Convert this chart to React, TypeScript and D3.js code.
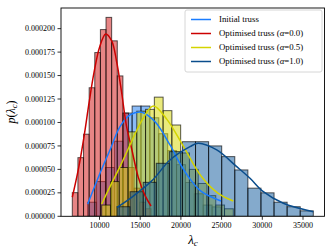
import React from 'react';
import * as d3 from 'd3';

const W = 333;
const H = 250;
const M = { left: 61, right: 324.5, top: 8, bottom: 216.3 };

// histogram data: [min, max] of each sample and bar densities
const initialRange = [8550, 24926];
const initialBars = [0.000015, 0.000037, 0.000052, 0.00008, 0.00011, 0.0001175, 0.0001175, 0.000105, 0.000088, 0.00007, 0.000055, 0.000036, 0.000024, 0.000012, 0.00001];
const redRange = [6658, 16327];
const redBars = [0.0000252, 0.0000625, 0.0000875, 0.000137, 0.0001745, 0.000199, 0.000212, 0.000187, 0.0001496, 0.00011, 0.000052, 0.00003, 0.000015, 0.000008];
const yellowRange = [10270, 26437];
const yellowBars = [0.000012, 0.000037, 0.000052, 0.00009, 0.000112, 0.000114, 0.000127, 0.0001126, 0.0000973, 0.0000675, 0.00005, 0.000035, 0.000022, 0.000012, 0.000008];
const darkRange = [12150, 36265];
const darkBars = [0.0000102, 0.0000262, 0.0000362, 0.0000565, 0.0000689, 0.0000795, 0.0000795, 0.000075, 0.0000636, 0.0000494, 0.00003, 0.000025, 0.000015, 0.0000102, 0.0000058];

// fitted density curves
const initialCurve: [number, number][] = [
  [8550, 0.000013], [10061, 0.0000458], [11290, 0.0000707], [12518, 0.0000955], [13750, 0.000108],
  [15184, 0.000111], [16800, 0.000101], [18661, 0.000076], [19900, 0.000056], [21100, 0.00004],
  [22540, 0.0000262], [24926, 0.0000163],
];
const redCurve: [number, number][] = [
  [6658, 0.0000203], [7400, 0.00005], [8100, 0.000085], [8700, 0.00012], [9300, 0.000152],
  [10000, 0.00018], [10760, 0.0001944], [11500, 0.000187], [12100, 0.000165], [12700, 0.000133],
  [13300, 0.000097], [13950, 0.000072], [14750, 0.000042], [15600, 0.000022], [16327, 0.000011],
];
const yellowCurve: [number, number][] = [
  [10270, 0.0000131], [11290, 0.0000316], [12518, 0.0000529], [13747, 0.000076], [15200, 0.000102],
  [16610, 0.0001176], [18300, 0.000103], [20098, 0.0000778], [22540, 0.0000422], [24585, 0.0000245],
  [26437, 0.0000163],
];
const darkCurve: [number, number][] = [
  [12150, 0.0000095], [13900, 0.00002], [16450, 0.000038], [18661, 0.00006], [21118, 0.0000742],
  [22138, 0.0000778], [24400, 0.0000707], [26855, 0.0000529], [28490, 0.0000405], [30123, 0.0000262],
  [32580, 0.0000139], [36265, 0.0000049],
];

const xTicks = [10000, 15000, 20000, 25000, 30000, 35000];
const yTicks = [0, 0.000025, 0.00005, 0.000075, 0.0001, 0.000125, 0.00015, 0.000175, 0.0002];
const legendLabels = ['Initial truss', 'Optimised truss', 'Optimised truss', 'Optimised truss'];
const legendAlphas = ['', '0.0', '0.5', '1.0'];

const series = [
  { range: initialRange, bars: initialBars, curve: initialCurve, fill: '#2a84f0', fillOp: 0.55, line: '#1a7cff' },
  { range: redRange, bars: redBars, curve: redCurve, fill: '#d42020', fillOp: 0.55, line: '#cc0000' },
  { range: yellowRange, bars: yellowBars, curve: yellowCurve, fill: '#d8d810', fillOp: 0.55, line: '#d4d400' },
  { range: darkRange, bars: darkBars, curve: darkCurve, fill: '#0a5599', fillOp: 0.5, line: '#0a4d8c' },
];

const FONT = '"Liberation Serif", "DejaVu Serif", serif';

export default function App() {
  const x = d3.scaleLinear().domain([5270, 37640]).range([M.left, M.right]);
  const y = d3.scaleLinear().domain([0, 0.000222]).range([M.bottom, M.top]);
  const line = d3.line<[number, number]>()
    .x((d) => x(d[0]))
    .y((d) => y(d[1]))
    .curve(d3.curveCatmullRom.alpha(0.5));

  return (
    <svg width={W} height={H} style={{ position: 'absolute', left: 0, top: 0 }} fontFamily={FONT} fill="#000">
      <rect width={W} height={H} fill="#fff" />
      <defs>
        <clipPath id="plot">
          <rect x={M.left} y={M.top} width={M.right - M.left} height={M.bottom - M.top} />
        </clipPath>
      </defs>
      <g clipPath="url(#plot)">
        {series.map((s, si) => {
          const [lo, hi] = s.range;
          const w = (hi - lo) / s.bars.length;
          return (
            <g key={si}>
              {s.bars.map((v, i) => (
                <rect
                  key={i}
                  x={x(lo + i * w)}
                  y={y(v)}
                  width={x(lo + (i + 1) * w) - x(lo + i * w)}
                  height={y(0) - y(v)}
                  fill={s.fill}
                  fillOpacity={s.fillOp}
                  stroke="#000"
                  strokeOpacity={0.65}
                  strokeWidth={1}
                />
              ))}
            </g>
          );
        })}
        {series.map((s, si) => (
          <path key={si} d={line(s.curve) ?? ''} fill="none" stroke={s.line} strokeWidth={1.5} />
        ))}
      </g>

      <rect x={M.left} y={M.top} width={M.right - M.left} height={M.bottom - M.top} fill="none" stroke="#000" strokeWidth={0.9} />

      {xTicks.map((t) => (
        <g key={t} transform={`translate(${x(t)},${M.bottom})`}>
          <line y2={3.5} stroke="#000" strokeWidth={0.8} />
          <text y={12} textAnchor="middle" fontSize={8} fill="#000">{t}</text>
        </g>
      ))}
      {yTicks.map((t) => (
        <g key={t} transform={`translate(${M.left},${y(t)})`}>
          <line x2={-3.5} stroke="#000" strokeWidth={0.8} />
          <text x={-6} dy="0.33em" textAnchor="end" fontSize={8} fill="#000">{t.toFixed(6)}</text>
        </g>
      ))}

      <text x={193} y={244} textAnchor="middle" fontSize={13} fill="#000">
        <tspan fontStyle="italic">λ</tspan>
        <tspan fontSize={9} dy={2} fontStyle="italic">c</tspan>
      </text>
      <text transform="translate(15,112) rotate(-90)" textAnchor="middle" fontSize={12} fill="#000">
        <tspan fontStyle="italic">p</tspan>
        <tspan>(</tspan>
        <tspan fontStyle="italic">λ</tspan>
        <tspan fontSize={8.5} dy={2} fontStyle="italic">c</tspan>
        <tspan dy={-2}>)</tspan>
      </text>

      <rect x={185} y={10} width={137} height={62} rx={2} fill="#fff" fillOpacity={0.8} stroke="#ccc" strokeWidth={0.8} />
      {series.map((s, i) => (
        <g key={i} transform={`translate(191,${19.5 + i * 14})`}>
          <line x1={0} x2={20} stroke={s.line} strokeWidth={1.5} />
          <text x={28} dy="0.33em" fontSize={8.8} fill="#000">
            {legendLabels[i]}
            {legendAlphas[i] && (
              <>
                {' ('}
                <tspan fontStyle="italic">α</tspan>
                {`=${legendAlphas[i]})`}
              </>
            )}
          </text>
        </g>
      ))}
    </svg>
  );
}
